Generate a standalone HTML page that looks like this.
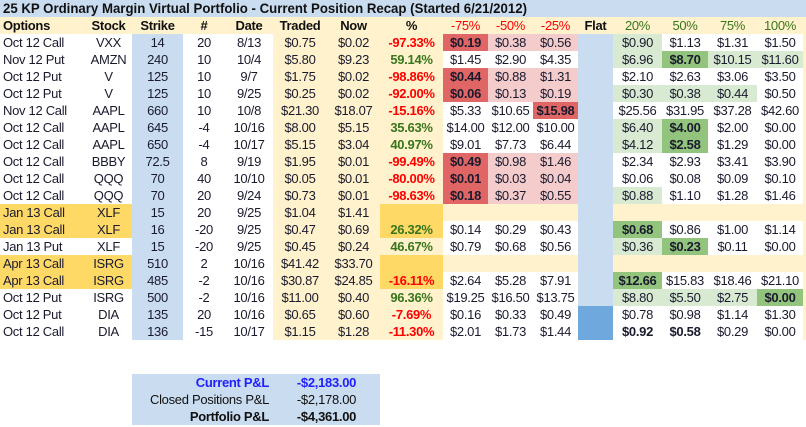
<!DOCTYPE html>
<html><head><meta charset="utf-8">
<style>
body{margin:0;width:806px;height:427px;overflow:hidden;background:#fff;font-family:"Liberation Sans",Arial,sans-serif;}
#wrap{position:relative;width:806px;height:427px;}
.c{position:absolute;height:17px;line-height:17px;font-size:13px;color:#1a1a2e;text-align:center;white-space:nowrap;letter-spacing:-0.3px;box-sizing:border-box;}
#title{position:absolute;left:0;top:0;width:806px;height:17px;background:#c9dcf0;}
#title span{position:absolute;left:3px;top:0;line-height:17px;font-size:14px;font-weight:bold;color:#111;white-space:nowrap;transform-origin:0 50%;}
</style></head>
<body>
<div id="wrap">
<div id="title"><span id="tt">25 KP Ordinary Margin Virtual Portfolio - Current Position Recap (Started 6/21/2012)</span></div>
</div>
<script>
// column edges
const colX=[0,85,132,183,225,273,327,380,443,488,533,578,613,662,708,757,803];
const headers=["Options","Stock","Strike","#","Date","Traded","Now","%","-75%","-50%","-25%","Flat","20%","50%","75%","100%"];
// rows: option, stock, strike, qty, date, traded, now, pct, yellowFlag
const options=["Oct 12 Call","Nov 12 Put","Oct 12 Put","Oct 12 Put","Nov 12 Call","Oct 12 Call","Oct 12 Call","Oct 12 Call","Oct 12 Call","Oct 12 Call","Jan 13 Call","Jan 13 Call","Jan 13 Put","Apr 13 Call","Apr 13 Call","Oct 12 Put","Oct 12 Put","Oct 12 Call"];
const stocks=["VXX","AMZN","V","V","AAPL","AAPL","AAPL","BBBY","QQQ","QQQ","XLF","XLF","XLF","ISRG","ISRG","ISRG","DIA","DIA"];
const strikes=["14","240","125","125","660","645","650","72.5","70","70","15","16","15","510","485","500","135","136"];
const qtys=["20","10","10","10","10","-4","-4","8","40","20","20","-20","-20","2","-2","-2","20","-15"];
const dates=["8/13","10/4","9/7","9/25","10/8","10/16","10/17","9/19","10/10","9/24","9/25","9/25","9/25","10/16","10/16","10/16","10/16","10/17"];
const traded=["$0.75","$5.80","$1.75","$0.25","$21.30","$8.00","$5.15","$1.95","$0.05","$0.73","$1.04","$0.47","$0.45","$41.42","$30.87","$11.00","$0.65","$1.15"];
const nows=["$0.02","$9.23","$0.02","$0.02","$18.07","$5.15","$3.04","$0.01","$0.01","$0.01","$1.41","$0.69","$0.24","$33.70","$24.85","$0.40","$0.60","$1.28"];
const pcts=["-97.33%","59.14%","-98.86%","-92.00%","-15.16%","35.63%","40.97%","-99.49%","-80.00%","-98.63%","","26.32%","46.67%","","-16.11%","96.36%","-7.69%","-11.30%"];
const yellowRows=[0,0,0,0,0,0,0,0,0,0,1,1,0,1,1,0,0,0];
// target values: -75,-50,-25, 20,50,75,100
const targets=[
["$0.19","$0.38","$0.56","$0.90","$1.13","$1.31","$1.50"],
["$1.45","$2.90","$4.35","$6.96","$8.70","$10.15","$11.60"],
["$0.44","$0.88","$1.31","$2.10","$2.63","$3.06","$3.50"],
["$0.06","$0.13","$0.19","$0.30","$0.38","$0.44","$0.50"],
["$5.33","$10.65","$15.98","$25.56","$31.95","$37.28","$42.60"],
["$14.00","$12.00","$10.00","$6.40","$4.00","$2.00","$0.00"],
["$9.01","$7.73","$6.44","$4.12","$2.58","$1.29","$0.00"],
["$0.49","$0.98","$1.46","$2.34","$2.93","$3.41","$3.90"],
["$0.01","$0.03","$0.04","$0.06","$0.08","$0.09","$0.10"],
["$0.18","$0.37","$0.55","$0.88","$1.10","$1.28","$1.46"],
["","","","","","",""],
["$0.14","$0.29","$0.43","$0.68","$0.86","$1.00","$1.14"],
["$0.79","$0.68","$0.56","$0.36","$0.23","$0.11","$0.00"],
["","","","","","",""],
["$2.64","$5.28","$7.91","$12.66","$15.83","$18.46","$21.10"],
["$19.25","$16.50","$13.75","$8.80","$5.50","$2.75","$0.00"],
["$0.16","$0.33","$0.49","$0.78","$0.98","$1.14","$1.30"],
["$2.01","$1.73","$1.44","$0.92","$0.58","$0.29","$0.00"]];
// cell fill codes: d dark red, p pink, w white, G dark green, g light green, b beige, B bold white
const fills=[
"dppgwww","wwwgGgg","dppwwww","dppgggw","wwdwwww","wwwgGww","wwwgGww","dppwwww","dppwwww","dppgwww",
"bbbbbbb","wwwGwww","wwwgGww","bbbbbbb","wwwGwww","wwwgggG","wwwwwww","wwwBBww"];
const flatDark=[0,0,0,0,0,0,0,0,0,0,0,0,0,0,0,0,1,1];
const summaryLabels=["Current P&L","Closed Positions P&L","Portfolio P&L"];
const summaryValues=["-$2,183.00","-$2,178.00","-$4,361.00"];

const BEIGE="#fff2cc",BLUE="#c9dcf0",YEL="#ffd966",DRED="#e06666",PINK="#f4cccc",DG="#93c47d",LG="#d9ead3",DBLUE="#6fa8dc";
const wrap=document.getElementById('wrap');
function cell(col,y,text,opts){
  const d=document.createElement('div');
  d.className='c';
  d.style.left=colX[col]+'px';
  d.style.top=y+'px';
  d.style.width=(colX[col+1]-colX[col])+'px';
  d.textContent=text;
  if(opts.bg)d.style.background=opts.bg;
  if(opts.color)d.style.color=opts.color;
  if(opts.bold)d.style.fontWeight='bold';
  if(opts.align)d.style.textAlign=opts.align;
  if(opts.pad)d.style.paddingLeft=opts.pad+'px';
  wrap.appendChild(d);
  return d;
}
// header background
const hb=document.createElement('div');
hb.style.cssText='position:absolute;left:0;top:17px;width:806px;height:17px;background:'+BEIGE;


wrap.appendChild(hb);
headers.forEach((h,i)=>{
  let color='#111';
  if(i>=8&&i<=10)color='#ff0000';
  if(i>=12)color='#38761d';
  const el=cell(i,17,h,{bold:i<8||i==11,color:color,align:i==0?'left':'center',pad:i==0?3:0});
  if(i>=8&&i!=11)el.style.fontWeight='normal';
  
  
});
for(let r=0;r<options.length;r++){
  const y=34+r*17;
  const yl=yellowRows[r];
  const rowVals=[options[r],stocks[r],strikes[r],qtys[r],dates[r],traded[r],nows[r]];
  const bgs=[yl?YEL:'#fff',yl?YEL:'#fff',BLUE,'#fff','#fff',BEIGE,BEIGE];
  rowVals.forEach((v,i)=>{
    const el=cell(i,y,v,{bg:bgs[i],align:i==0?'left':'center',pad:i==0?3:0});
    
    
  });
  const p=pcts[r];
  const pe=cell(7,y,p,{bg:yl?YEL:BEIGE,color:p.startsWith('-')?'#ff0000':'#38761d',bold:true});
  
  
  const tcols=[8,9,10,12,13,14,15];
  targets[r].forEach((v,k)=>{
    const f=fills[r][k];
    const map={d:[DRED,true],p:[PINK,false],w:['#fff',false],G:[DG,true],g:[LG,false],b:[BEIGE,false],B:['#fff',true]};
    const te=cell(tcols[k],y,v,{bg:map[f][0],bold:map[f][1]});
    
    
  });
  const fe=cell(11,y,'',{bg:flatDark[r]?DBLUE:BLUE});
  
  
  const ee=document.createElement('div');
  ee.style.cssText='position:absolute;left:803px;top:'+y+'px;width:3px;height:17px;background:'+BEIGE;
  
  
  wrap.appendChild(ee);
}
// summary box
const sb=document.createElement('div');
sb.style.cssText='position:absolute;left:132px;top:374px;width:248px;height:51px;background:'+BLUE;


wrap.appendChild(sb);
summaryLabels.forEach((l,i)=>{
  const y=374+i*17;
  const color=i==0?'#1f1fff':'#111';
  const le=document.createElement('div');
  le.className='c';
  le.style.cssText+='left:132px;top:'+y+'px;width:137px;text-align:right;color:'+color+';font-weight:'+(i==1?'normal':'bold');
  le.textContent=l;
  
  
  wrap.appendChild(le);
  const ve=document.createElement('div');
  ve.className='c';
  ve.style.cssText+='left:273px;top:'+y+'px;width:107px;text-align:center;color:'+color+';font-weight:'+(i==1?'normal':'bold');
  ve.textContent=summaryValues[i];
  
  
  wrap.appendChild(ve);
});
// fit title width
const tt=document.getElementById('tt');
const w=tt.getBoundingClientRect().width;
if(w>0)tt.style.transform='scaleX('+(524/w)+')';
</script>
</body></html>
